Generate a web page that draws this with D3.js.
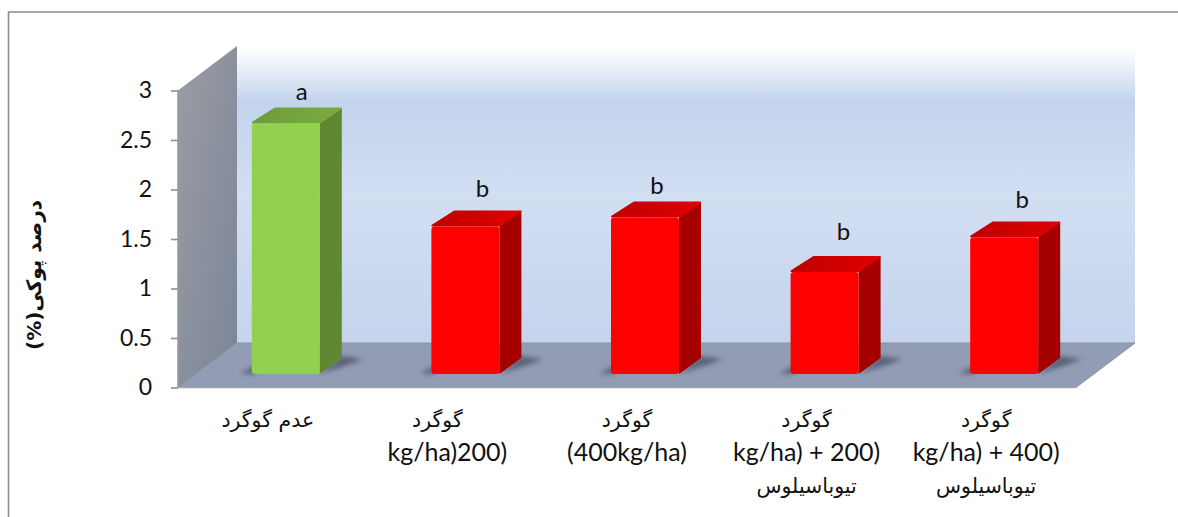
<!DOCTYPE html>
<html lang="fa">
<head>
<meta charset="UTF-8">
<title>درصد پوکی</title>
<script src="https://d3js.org/d3.v7.min.js"></script>
<style>
  html, body { margin: 0; padding: 0; background: #fff; overflow: hidden; }
  svg { display: block; }
  .num { font-family: Lato, "Open Sans", sans-serif; fill: #111; }
  .fa { font-family: "DejaVu Sans", sans-serif; fill: #111; }
</style>
</head>
<body>
<svg id="chart" width="1178" height="517"></svg>
<script>
// values
const categories = ["none", "s200", "s400", "s200t", "s400t"];
const values = [2.53, 1.49, 1.58, 1.03, 1.38];
const letters = ["a", "b", "b", "b", "b"];
const barKinds = ["green", "red", "red", "red", "red"];
const yTicks = [0, 0.5, 1, 1.5, 2, 2.5, 3];
const labelLines = [
  ["عدم گوگرد"],
  ["گوگرد", "kg/ha)200)"],
  ["گوگرد", "(400kg/ha)"],
  ["گوگرد", "kg/ha) + 200)", "تیوباسیلوس"],
  ["گوگرد", "kg/ha) + 400)", "تیوباسیلوس"]
];
const yTitle = "درصد پوکی(%)";

const colors = {
  green: { front: "#92d050", side: "#608732", top: "#6e9c3a", topEnd: "#79ab40" },
  red: { front: "#ff0000", side: "#a50000", top: "#bf0000", topEnd: "#e00000" }
};

const svg = d3.select("#chart");
const defs = svg.append("defs");

// chart box
const x0 = 178, x1 = 1076, y0 = 387.5, y3 = 90.5;
const depthX = 59, depthY = 44.5;
const barW = 68, barDepthX = 22, barDepthY = 16;
const barShiftX = 18, barShiftY = 13.5;

const x = d3.scaleBand().domain(categories).range([x0, x1]);
const y = d3.scaleLinear().domain([0, 3]).range([y0, y3]);

const poly = pts => pts.map(p => p.join(",")).join(" ");

function linear(id, x1g, y1g, x2g, y2g, stops) {
  const g = defs.append("linearGradient").attr("id", id)
    .attr("x1", x1g).attr("y1", y1g).attr("x2", x2g).attr("y2", y2g);
  stops.forEach(s => g.append("stop").attr("offset", s[0]).attr("stop-color", s[1]));
}
linear("wallFill", 0, 0, 0, 1, [[0, "#ffffff"], [0.03, "#f8fafd"], [0.1, "#e1e9f6"], [0.185, "#c3d3ed"], [0.5, "#d2def2"], [1, "#c5d4ed"]]);
linear("sideFill", 0, 0, 1, 1, [[0, "#9a9da3"], [1, "#7b8599"]]);
linear("topgreen", 0, 0, 1, 0, [[0, colors.green.top], [1, colors.green.topEnd]]);
linear("topred", 0, 0, 1, 0, [[0, colors.red.top], [1, colors.red.topEnd]]);
defs.append("filter").attr("id", "soft").append("feGaussianBlur").attr("stdDeviation", 0.5);
defs.append("filter").attr("id", "shadow")
  .attr("x", "-40%").attr("y", "-80%").attr("width", "180%").attr("height", "260%")
  .append("feGaussianBlur").attr("stdDeviation", 2.6);

// outer frame, top and left only
svg.append("path").attr("d", "M8.5,517V12H1178").attr("fill", "none")
  .attr("stroke", "#8c8c8c").attr("stroke-width", 1.6);

// walls and floor
const room = svg.append("g").attr("filter", "url(#soft)");
room.append("rect")
  .attr("x", x0 + depthX).attr("y", y3 - depthY)
  .attr("width", x1 - x0).attr("height", y0 - y3)
  .attr("fill", "url(#wallFill)");
room.append("polygon")
  .attr("points", poly([[x0, y3], [x0 + depthX, y3 - depthY], [x0 + depthX, y0 - depthY], [x0, y0]]))
  .attr("fill", "url(#sideFill)");
room.append("polygon")
  .attr("points", poly([[x0, y0], [x0 + depthX, y0 - depthY], [x1 + depthX, y0 - depthY], [x1, y0]]))
  .attr("fill", "#929db5").attr("stroke", "#8b92a3").attr("stroke-width", 1);

// axis
const axis = d3.axisLeft(y).tickValues(yTicks).tickFormat(d3.format("")).tickSize(7).tickPadding(19);
const axisG = svg.append("g").attr("transform", `translate(${x0},0)`).call(axis);
axisG.select(".domain").attr("stroke", "#9a9a9a").attr("stroke-width", 1.6).attr("d", `M0,${y3}V${y0}`);
axisG.selectAll(".tick line").attr("stroke", "#8f8f8f").attr("stroke-width", 1.6);
axisG.selectAll(".tick text").attr("class", "num").attr("font-family", null)
  .style("font-size", "23px").attr("fill", "#111");
svg.append("line").attr("x1", x0).attr("x2", x1).attr("y1", y0).attr("y2", y0)
  .attr("stroke", "#a3a3a3").attr("stroke-width", 1.4);

// bars
const bars = svg.selectAll(".bar").data(categories).join("g").attr("class", "bar");
const barLeft = d => x(d) + x.bandwidth() / 2 - barW / 2 + barShiftX;
const barBase = y0 - barShiftY;
const barTop = i => barBase - (y0 - y(values[i]));

// floor shadow, left of the bar and past its side face
bars.append("polygon")
  .attr("points", d => {
    const l = barLeft(d);
    return poly([[l - 12, barBase], [l + 4, barBase], [l + 4, barBase - 9]]);
  })
  .attr("fill", "#5a6277").attr("filter", "url(#shadow)");
bars.append("polygon")
  .attr("points", d => {
    const r = barLeft(d) + barW;
    return poly([[r, barBase], [r + barDepthX + 6, barBase - 9], [r + barDepthX + 22, barBase - 15], [r + barDepthX, barBase - barDepthY - 2]]);
  })
  .attr("fill", "#5a6277").attr("filter", "url(#shadow)");

const solids = bars.append("g").attr("filter", "url(#soft)");
solids.append("polygon")
  .attr("points", (d, i) => {
    const r = barLeft(d) + barW, t = barTop(i);
    return poly([[r, t], [r + barDepthX, t - barDepthY], [r + barDepthX, barBase - barDepthY], [r, barBase]]);
  })
  .attr("fill", (d, i) => colors[barKinds[i]].side);
solids.append("polygon")
  .attr("points", (d, i) => {
    const l = barLeft(d), r = l + barW, t = barTop(i);
    return poly([[l + 1, t - 1], [l + barDepthX + 1, t - barDepthY + 1], [r + barDepthX - 1, t - barDepthY + 1], [r, t - 1]]);
  })
  .attr("fill", (d, i) => `url(#top${barKinds[i]})`)
  .attr("stroke", (d, i) => `url(#top${barKinds[i]})`)
  .attr("stroke-width", 2).attr("stroke-linejoin", "round");
solids.append("rect")
  .attr("x", barLeft).attr("y", (d, i) => barTop(i))
  .attr("width", barW).attr("height", (d, i) => barBase - barTop(i))
  .attr("rx", 3)
  .attr("fill", (d, i) => colors[barKinds[i]].front);

// significance letters
const letterNudgeX = [16, 17, 12, 19, 18];
const letterNudgeY = [-15, -20, -15, -23, -20];
svg.selectAll(".letter").data(letters).join("text")
  .attr("class", "letter num")
  .attr("x", (d, i) => barLeft(categories[i]) + barW / 2 + letterNudgeX[i])
  .attr("y", (d, i) => barTop(i) - barDepthY + letterNudgeY[i] + 7)
  .attr("text-anchor", "middle")
  .style("font-size", "24px")
  .text(d => d);

// category labels
const labelNudge = [0, -10, 0, 0, 0];
const lineNudge = [[0], [0, 10], [0, 0], [0, 0, 0], [0, 0, 0]];
const lineY = [420, 453, 486];
const labels = svg.selectAll(".cat").data(labelLines).join("g").attr("class", "cat");
labels.selectAll("text").data((d, i) => d.map((t, j) => ({ t, i, j }))).join("text")
  .attr("class", d => /[a-z]/.test(d.t) ? "num" : "fa")
  .attr("x", d => x(categories[d.i]) + x.bandwidth() / 2 + labelNudge[d.i] + lineNudge[d.i][d.j])
  .attr("y", d => lineY[d.j])
  .attr("dy", "0.33em")
  .attr("text-anchor", "middle")
  .style("font-size", d => /[a-z]/.test(d.t) ? "25px" : "20.5px")
  .text(d => d.t);

// y title
svg.append("text")
  .attr("class", "fa")
  .attr("transform", "translate(34,275) rotate(-90)")
  .attr("dy", "0.33em")
  .attr("text-anchor", "middle")
  .attr("direction", "rtl")
  .style("font-size", "20px").style("font-weight", "bold")
  .text(yTitle);
</script>
</body>
</html>
